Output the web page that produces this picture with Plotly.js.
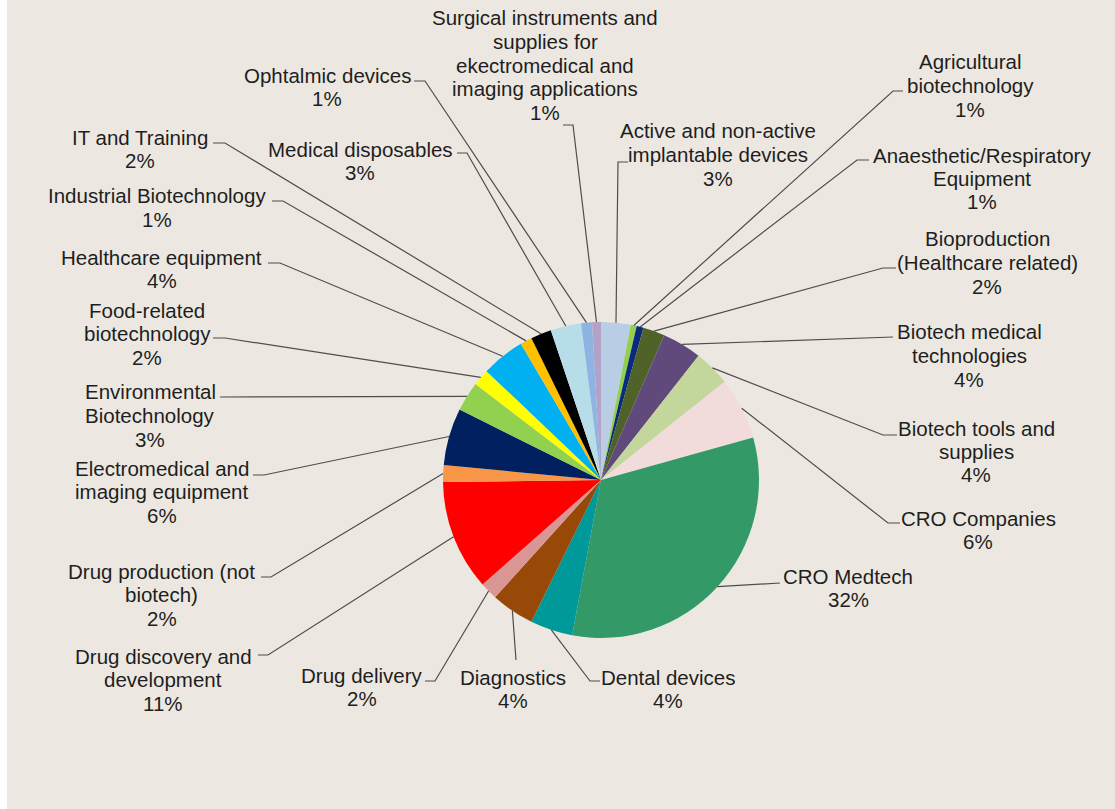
<!DOCTYPE html>
<html>
<head>
<meta charset="utf-8">
<script src="https://cdn.plot.ly/plotly-3.0.1.min.js"></script>
<style>
  html, body { margin: 0; padding: 0; background: #ffffff; }
  #chart { width: 1115px; height: 809px; }
</style>
</head>
<body>
<div id="chart"></div>
<script>
// ---------- DATA ----------
const categories = [
  "Active and non-active implantable devices",
  "Agricultural biotechnology",
  "Anaesthetic/Respiratory Equipment",
  "Bioproduction (Healthcare related)",
  "Biotech medical technologies",
  "Biotech tools and supplies",
  "CRO Companies",
  "CRO Medtech",
  "Dental devices",
  "Diagnostics",
  "Drug delivery",
  "Drug discovery and development",
  "Drug production (not biotech)",
  "Electromedical and imaging equipment",
  "Environmental Biotechnology",
  "Food-related biotechnology",
  "Healthcare equipment",
  "Industrial Biotechnology",
  "IT and Training",
  "Medical disposables",
  "Ophtalmic devices",
  "Surgical instruments and supplies for ekectromedical and imaging applications"
];
const shares = [3.0, 0.6, 0.7, 2.2, 4.0, 3.7, 6.3, 32.0, 4.3, 4.4, 1.8, 11.2, 1.7, 5.8, 3.0, 1.7, 4.4, 1.2, 2.1, 3.1, 1.1, 0.9];

// ---------- STYLE / LAYOUT ----------
const sliceColors = [
  "#B9CDE5", "#92D050", "#0A2A80", "#4F6228", "#604A7B", "#C3D69B",
  "#F2DCDB", "#339966", "#009999", "#984807", "#D99694", "#FF0000",
  "#F79646", "#002060", "#92D050", "#FFFF00", "#00B0F0", "#FFC000",
  "#000000", "#B7DEE8", "#8DB4E2", "#B3A2C7"
];
// wrapped label lines, label centre x, first-line y, leader elbow points (pixels)
const labelSpec = [
  {lines: ["Active and non-active", "implantable devices"], x: 718, y: 131, pts: [[618,162],[628,162]]},
  {lines: ["Agricultural", "biotechnology"], x: 970, y: 62, pts: [[893,91],[903,91]]},
  {lines: ["Anaesthetic/Respiratory", "Equipment"], x: 982, y: 155, pts: [[857,160],[869,160]]},
  {lines: ["Bioproduction", "(Healthcare related)"], x: 987, y: 239, pts: [[883,268],[896,268]]},
  {lines: ["Biotech medical", "technologies"], x: 969, y: 332, pts: [[893,337]]},
  {lines: ["Biotech tools and", "supplies"], x: 976, y: 428, pts: [[883,435],[897,435]]},
  {lines: ["CRO Companies"], x: 978, y: 518, pts: [[888,523],[900,523]]},
  {lines: ["CRO Medtech"], x: 848, y: 576, pts: [[780,583]]},
  {lines: ["Dental devices"], x: 668, y: 677, pts: [[590,681],[600,681]]},
  {lines: ["Diagnostics"], x: 513, y: 677, pts: [[516,660]]},
  {lines: ["Drug delivery"], x: 362, y: 675, pts: [[435,681],[425,681]]},
  {lines: ["Drug discovery and", "development"], x: 163, y: 656, pts: [[268,655],[258,655]]},
  {lines: ["Drug production (not", "biotech)"], x: 162, y: 571, pts: [[271,577],[261,577]]},
  {lines: ["Electromedical and", "imaging equipment"], x: 162, y: 468, pts: [[264,475],[253,475]]},
  {lines: ["Environmental", "Biotechnology"], x: 150, y: 392, pts: [[220,397]]},
  {lines: ["Food-related", "biotechnology"], x: 147, y: 310, pts: [[225,338],[213,338]]},
  {lines: ["Healthcare equipment"], x: 162, y: 257, pts: [[280,263],[268,263]]},
  {lines: ["Industrial Biotechnology"], x: 157, y: 196, pts: [[283,201],[272,201]]},
  {lines: ["IT and Training"], x: 140, y: 137, pts: [[225,143],[213,143]]},
  {lines: ["Medical disposables"], x: 360, y: 149, pts: [[467,153],[457,153]]},
  {lines: ["Ophtalmic devices"], x: 327, y: 75, pts: [[425,81],[414,81]]},
  {lines: ["Surgical instruments and", "supplies for", "ekectromedical and", "imaging applications"], x: 545, y: 18, pts: [[573,125],[563,125]]}
];

const W = 1115, H = 809;
const CX = 601, CY = 480, R = 158;
const LINE_H = 23.5;
const FONT = {family: "Liberation Sans, Arial, sans-serif", size: 20.5, color: "#1e1e1e"};
const BG = "#ECE8E1";
const px = x => x / W;
const py = y => 1 - y / H;

const total = shares.reduce((a, b) => a + b, 0);
const annotations = [];
const shapes = [];

// white strip on the left edge
shapes.push({type: "rect", xref: "paper", yref: "paper", x0: 0, x1: px(7), y0: 0, y1: 1,
  fillcolor: "#ffffff", line: {width: 0}, layer: "below"});

let cum = 0;
shares.forEach((v, i) => {
  const mid = (cum + v / 2) / total * 2 * Math.PI; // clockwise from 12 o'clock
  cum += v;
  const ex = CX + R * Math.sin(mid);
  const ey = CY - R * Math.cos(mid);
  const spec = labelSpec[i];
  let path = "M" + px(ex) + "," + py(ey);
  spec.pts.forEach(p => { path += " L" + px(p[0]) + "," + py(p[1]); });
  shapes.push({type: "path", xref: "paper", yref: "paper", path: path,
    line: {color: "#4d4d4d", width: 1.2}, layer: "above"});
  const pct = Math.round(v / total * 100) + "%";
  spec.lines.concat([pct]).forEach((t, k) => {
    annotations.push({xref: "paper", yref: "paper", x: px(spec.x), y: py(spec.y + k * LINE_H),
      text: t, showarrow: false, xanchor: "center", yanchor: "middle", font: FONT});
  });
});

const trace = {
  type: "pie",
  labels: categories,
  values: shares,
  sort: false,
  direction: "clockwise",
  rotation: 0,
  textinfo: "none",
  hoverinfo: "label+percent",
  marker: {colors: sliceColors, line: {width: 0}},
  domain: {x: [(CX - R) / W, (CX + R) / W], y: [1 - (CY + R) / H, 1 - (CY - R) / H]},
  showlegend: false
};

const layout = {
  width: W, height: H,
  margin: {l: 0, r: 0, t: 0, b: 0},
  paper_bgcolor: BG,
  plot_bgcolor: BG,
  showlegend: false,
  annotations: annotations,
  shapes: shapes
};

Plotly.newPlot("chart", [trace], layout, {displayModeBar: false});
</script>
</body>
</html>
